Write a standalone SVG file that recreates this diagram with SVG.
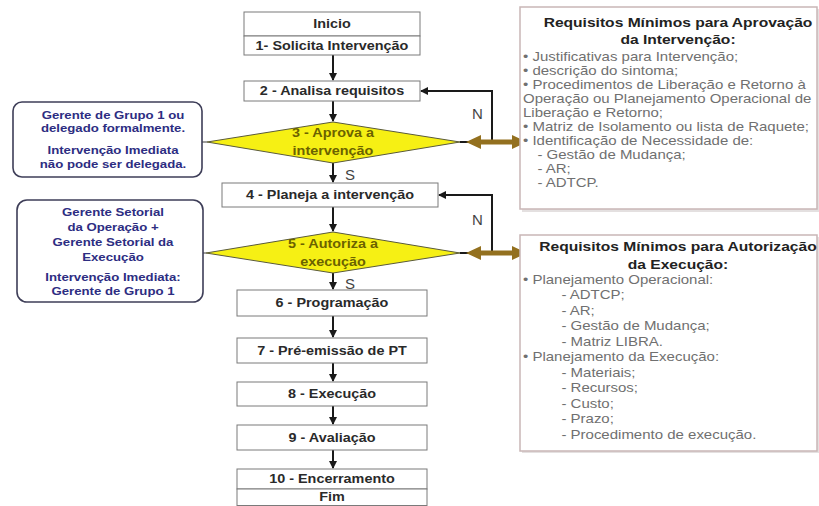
<svg xmlns="http://www.w3.org/2000/svg" width="819" height="506" viewBox="0 0 819 506">
  <style>
    .box { fill: #ffffff; stroke: #7a7a7a; stroke-width: 1; }
    .lbl { font-family: "Liberation Sans", Arial, sans-serif; font-weight: bold; font-size: 12px; fill: #2a2a2a; text-anchor: middle; }
    .dia { fill: #f6f014; stroke: #5a5a3a; stroke-width: 1; }
    .dlbl { font-family: "Liberation Sans", Arial, sans-serif; font-weight: bold; font-size: 12px; fill: #6b6200; text-anchor: middle; }
    .call { fill: #ffffff; stroke: #3e3e58; stroke-width: 1.6; }
    .clbl { font-family: "Liberation Sans", Arial, sans-serif; font-weight: bold; font-size: 11px; fill: #2d2d82; text-anchor: middle; }
    .req { fill: #ffffff; stroke: #c9b6b6; stroke-width: 1.5; }
    .shadow { fill: #e4e0e0; }
    .rtitle { font-family: "Liberation Sans", Arial, sans-serif; font-weight: bold; font-size: 13px; fill: #222222; text-anchor: middle; }
    .ritem { font-family: "Liberation Sans", Arial, sans-serif; font-size: 12.5px; fill: #707070; }
    .yn { font-family: "Liberation Sans", Arial, sans-serif; font-size: 15px; fill: #444444; }
    .flow { fill: none; stroke: #1a1a1a; stroke-width: 2; }
    .thin { fill: none; stroke: #3a3a3a; stroke-width: 1; }
    .brown { fill: #93701f; }
  </style>
  <defs>
    <marker id="ah" markerWidth="8" markerHeight="8" refX="7" refY="4" orient="auto" markerUnits="userSpaceOnUse">
      <path d="M0,0 L8,4 L0,8 Z" fill="#1a1a1a"/>
    </marker>
  </defs>

  <rect width="819" height="506" fill="#ffffff"/>

  <!-- connectors -->
  <g id="connectors">
    <line class="flow" x1="333" y1="55" x2="333" y2="80" marker-end="url(#ah)"/>
    <line class="flow" x1="333" y1="101" x2="333" y2="121" marker-end="url(#ah)"/>
    <line class="flow" x1="333" y1="163" x2="333" y2="182" marker-end="url(#ah)"/>
    <line class="flow" x1="333" y1="207" x2="333" y2="231" marker-end="url(#ah)"/>
    <line class="flow" x1="333" y1="273" x2="333" y2="289" marker-end="url(#ah)"/>
    <line class="flow" x1="333" y1="316" x2="333" y2="337" marker-end="url(#ah)"/>
    <line class="flow" x1="333" y1="363" x2="333" y2="381" marker-end="url(#ah)"/>
    <line class="flow" x1="333" y1="406" x2="333" y2="424" marker-end="url(#ah)"/>
    <line class="flow" x1="333" y1="450" x2="333" y2="468" marker-end="url(#ah)"/>
    <!-- "N" return loops -->
    <path class="flow" d="M460,142 H492 V91 H421" marker-end="url(#ah)"/>
    <path class="flow" d="M460,253 H492 V195 H439" marker-end="url(#ah)"/>
    <!-- callout leaders -->
    <line class="thin" x1="202" y1="142" x2="207" y2="142"/>
    <line class="thin" x1="203" y1="253" x2="206" y2="253"/>
    <!-- links to requirement panels -->
    <polygon class="brown" points="466,142 481,135 481,139.5 512,139.5 512,135 527,142 512,149 512,144.5 481,144.5 481,149"/>
    <polygon class="brown" points="466,253 481,246 481,250.5 512,250.5 512,246 527,253 512,260 512,255.5 481,255.5 481,260"/>
    <text class="yn" x="472" y="119">N</text>
    <text class="yn" x="472" y="225">N</text>
    <text class="yn" x="345" y="180">S</text>
    <text class="yn" x="345" y="289">S</text>
  </g>

  <!-- process steps -->
  <g id="inicio">
    <rect class="box" x="244" y="12" width="176" height="24"/>
    <g transform="translate(332 0) scale(1.2 1)"><text class="lbl" x="0" y="28">Inicio</text></g>
  </g>
  <g id="step1">
    <rect class="box" x="244" y="36" width="176" height="19"/>
    <g transform="translate(332 0) scale(1.2 1)"><text class="lbl" x="0" y="50">1- Solicita Intervenção</text></g>
  </g>
  <g id="step2">
    <rect class="box" x="244" y="81" width="176" height="20"/>
    <g transform="translate(332 0) scale(1.2 1)"><text class="lbl" x="0" y="95">2 - Analisa requisitos</text></g>
  </g>
  <g id="step3">
    <polygon class="dia" points="207,142 333,122 460,142 333,163"/>
    <g transform="translate(333 0) scale(1.2 1)">
      <text class="dlbl" x="0" y="137">3 - Aprova a</text>
      <text class="dlbl" x="0" y="155">intervenção</text>
    </g>
  </g>
  <g id="step4">
    <rect class="box" x="222" y="183" width="216" height="24"/>
    <g transform="translate(330 0) scale(1.2 1)"><text class="lbl" x="0" y="199">4 - Planeja a intervenção</text></g>
  </g>
  <g id="step5">
    <polygon class="dia" points="206,253 333,232 460,253 333,273"/>
    <g transform="translate(333 0) scale(1.2 1)">
      <text class="dlbl" x="0" y="248">5 - Autoriza a</text>
      <text class="dlbl" x="0" y="266">execução</text>
    </g>
  </g>
  <g id="step6">
    <rect class="box" x="237" y="290" width="190" height="26"/>
    <g transform="translate(332 0) scale(1.2 1)"><text class="lbl" x="0" y="307">6 - Programação</text></g>
  </g>
  <g id="step7">
    <rect class="box" x="237" y="338" width="190" height="25"/>
    <g transform="translate(332 0) scale(1.2 1)"><text class="lbl" x="0" y="355">7 - Pré-emissão de PT</text></g>
  </g>
  <g id="step8">
    <rect class="box" x="237" y="382" width="190" height="24"/>
    <g transform="translate(332 0) scale(1.2 1)"><text class="lbl" x="0" y="398">8 - Execução</text></g>
  </g>
  <g id="step9">
    <rect class="box" x="237" y="425" width="190" height="25"/>
    <g transform="translate(332 0) scale(1.2 1)"><text class="lbl" x="0" y="442">9 - Avaliação</text></g>
  </g>
  <g id="step10">
    <rect class="box" x="237" y="469" width="190" height="20"/>
    <g transform="translate(332 0) scale(1.2 1)"><text class="lbl" x="0" y="483">10 - Encerramento</text></g>
  </g>
  <g id="fim">
    <rect class="box" x="237" y="489" width="190" height="16.5"/>
    <g transform="translate(332 0) scale(1.2 1)"><text class="lbl" x="0" y="501">Fim</text></g>
  </g>

  <!-- responsibility callouts -->
  <g id="callout-approval">
    <rect class="call" x="13" y="102" width="189" height="75" rx="9"/>
    <g transform="translate(113 0) scale(1.2 1)">
      <text class="clbl" x="0" y="119">Gerente de Grupo 1 ou</text>
      <text class="clbl" x="0" y="132">delegado formalmente.</text>
      <text class="clbl" x="0" y="154">Intervenção Imediata</text>
      <text class="clbl" x="0" y="168">não pode ser delegada.</text>
    </g>
  </g>
  <g id="callout-authorization">
    <rect class="call" x="17" y="200" width="186" height="102" rx="10"/>
    <g transform="translate(113 0) scale(1.2 1)">
      <text class="clbl" x="0" y="216">Gerente Setorial</text>
      <text class="clbl" x="0" y="231">da Operação +</text>
      <text class="clbl" x="0" y="246">Gerente Setorial da</text>
      <text class="clbl" x="0" y="261">Execução</text>
      <text class="clbl" x="0" y="281">Intervenção Imediata:</text>
      <text class="clbl" x="0" y="295">Gerente de Grupo 1</text>
    </g>
  </g>

  <!-- requirement panels -->
  <g id="req-approval">
    <rect class="shadow" x="522" y="9" width="297" height="203"/>
    <rect class="req" x="520" y="7" width="297" height="202"/>
    <g transform="translate(678 0) scale(1.2 1)">
      <text class="rtitle" x="0" y="27">Requisitos Mínimos para Aprovação</text>
      <text class="rtitle" x="0" y="44">da Intervenção:</text>
    </g>
    <g transform="translate(523 0) scale(1.2 1)">
      <text class="ritem" x="0" y="61">• Justificativas para Intervenção;</text>
      <text class="ritem" x="0" y="75">• descrição do sintoma;</text>
      <text class="ritem" x="0" y="89">• Procedimentos de Liberação e Retorno à</text>
      <text class="ritem" x="0" y="103">Operação ou Planejamento Operacional de</text>
      <text class="ritem" x="0" y="117">Liberação e Retorno;</text>
      <text class="ritem" x="0" y="131">• Matriz de Isolamento ou lista de Raquete;</text>
      <text class="ritem" x="0" y="145">• Identificação de Necessidade de:</text>
      <text class="ritem" x="12" y="159">- Gestão de Mudança;</text>
      <text class="ritem" x="12" y="173">- AR;</text>
      <text class="ritem" x="12" y="187">- ADTCP.</text>
    </g>
  </g>
  <g id="req-authorization">
    <rect class="shadow" x="522" y="237" width="297" height="216"/>
    <rect class="req" x="520" y="235" width="297" height="216"/>
    <g transform="translate(678 0) scale(1.2 1)">
      <text class="rtitle" x="0" y="251">Requisitos Mínimos para Autorização</text>
      <text class="rtitle" x="0" y="269">da Execução:</text>
    </g>
    <g transform="translate(523 0) scale(1.2 1)">
      <text class="ritem" x="0" y="284">• Planejamento Operacional:</text>
      <text class="ritem" x="32" y="299.5">- ADTCP;</text>
      <text class="ritem" x="32" y="315">- AR;</text>
      <text class="ritem" x="32" y="330.5">- Gestão de Mudança;</text>
      <text class="ritem" x="32" y="346">- Matriz LIBRA.</text>
      <text class="ritem" x="0" y="361.5">• Planejamento da Execução:</text>
      <text class="ritem" x="32" y="377">- Materiais;</text>
      <text class="ritem" x="32" y="392.5">- Recursos;</text>
      <text class="ritem" x="32" y="408">- Custo;</text>
      <text class="ritem" x="32" y="423.5">- Prazo;</text>
      <text class="ritem" x="32" y="439">- Procedimento de execução.</text>
    </g>
  </g>
</svg>
